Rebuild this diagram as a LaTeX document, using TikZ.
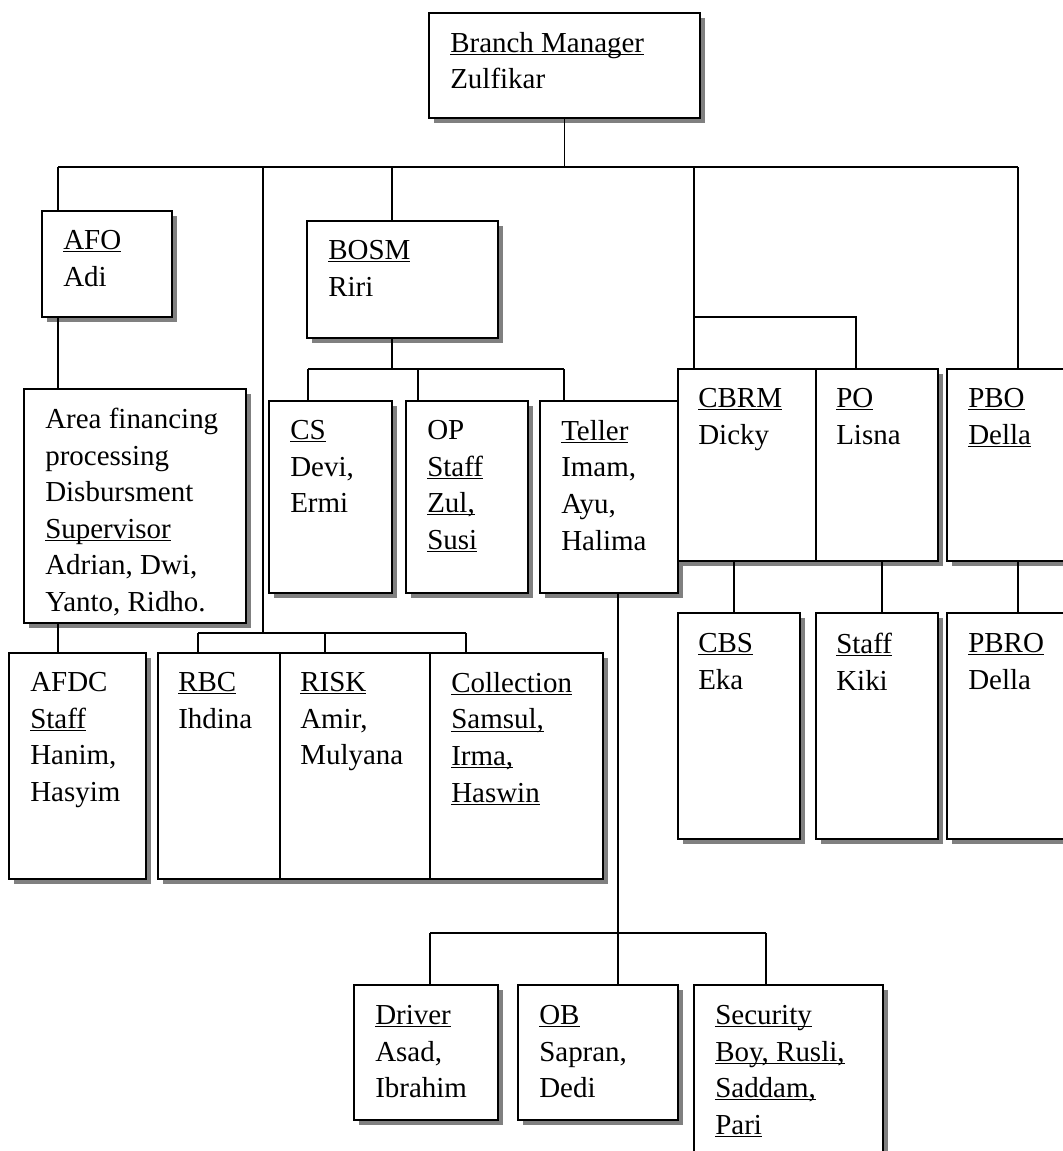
\documentclass[tikz,border=0pt]{standalone}
\usepackage{fontspec}
\setmainfont{Liberation Serif}
\usepackage{tikz}
\usetikzlibrary{calc, fit, shadows}

\newcommand{\undl}[1]{\underline{\smash{#1}}\vphantom{#1}}

\begin{document}
\begin{tikzpicture}[x=0.025cm, y=-0.025cm,
    box/.style={draw=black, line width=1pt, fill=white, inner sep=0pt, outer sep=0pt,
        drop shadow={shadow xshift=3.6pt, shadow yshift=-3.6pt, fill=black!50, opacity=1}},
    txt/.style={anchor=north west, inner sep=0pt, align=left,
        font=\fontsize{20.6}{26}\selectfont},
    link/.style={line width=0.8pt}]
    \useasboundingbox (0,0) rectangle (1063,1151);
    \clip (0,0) rectangle (1063,1151);

    % 1. Branch Manager
    \node[box, fit={(429,13) (700,118)}] (bm) {};
    \node[txt] (bm-t) at ($(bm.north west)+(21,19)$) {\undl{Branch Manager}\\Zulfikar};

    % 2. AFO cot trai
    \node[box, fit={(42,211) (172,317)}] (afo) {};
    \node[txt] (afo-t) at ($(afo.north west)+(21,19)$) {\undl{AFO}\\Adi};
    \node[box, fit={(24,389) (246,623)}] (area) {};
    \node[txt] (area-t) at ($(area.north west)+(21,19)$)
        {Area financing\\processing\\Disbursment\\\undl{Supervisor}\\Adrian, Dwi,\\Yanto, Ridho.};
    \node[box, fit={(9,653) (146,879)}] (afdc) {};
    \node[txt] (afdc-t) at ($(afdc.north west)+(21,19)$) {AFDC\\\undl{Staff}\\Hanim,\\Hasyim};

    % 3. RBC, RISK, Collection
    \node[box, fit={(158,653) (280,879)}] (rbc) {};
    \node[txt] (rbc-t) at ($(rbc.north west)+(20,19)$) {\undl{RBC}\\Ihdina};
    \node[box, fit={(280,653) (430,879)}] (risk) {};
    \node[txt] (risk-t) at ($(risk.north west)+(20,19)$) {\undl{RISK}\\Amir,\\Mulyana};
    \node[box, fit={(430,653) (603,879)}] (coll) {};
    \node[txt] (coll-t) at ($(coll.north west)+(21,19)$)
        {\undl{Collection}\\\undl{Samsul,}\\\undl{Irma,}\\\undl{Haswin}};

    % 4. BOSM va bawahannya
    \node[box, fit={(307,221) (498,338)}] (bosm) {};
    \node[txt] (bosm-t) at ($(bosm.north west)+(21,19)$) {\undl{BOSM}\\Riri};
    \node[box, fit={(269,401) (392,593)}] (cs) {};
    \node[txt] (cs-t) at ($(cs.north west)+(21,19)$) {\undl{CS}\\Devi,\\Ermi};
    \node[box, fit={(406,401) (528,593)}] (op) {};
    \node[txt] (op-t) at ($(op.north west)+(21,19)$) {OP\\\undl{Staff}\\\undl{Zul,}\\\undl{Susi}};
    \node[box, fit={(540,401) (678,593)}] (teller) {};
    \node[txt] (teller-t) at ($(teller.north west)+(21,19)$) {\undl{Teller}\\Imam,\\Ayu,\\Halima};

    % 5. CBRM, PO, PBO
    \node[box, fit={(678,369) (816,561)}] (cbrm) {};
    \node[txt] (cbrm-t) at ($(cbrm.north west)+(20,19)$) {\undl{CBRM}\\Dicky};
    \node[box, fit={(816,369) (938,561)}] (po) {};
    \node[txt] (po-t) at ($(po.north west)+(20,19)$) {\undl{PO}\\Lisna};
    \node[box, fit={(947,369) (1085,561)}] (pbo) {};
    \node[txt] (pbo-t) at ($(pbo.north west)+(21,19)$) {\undl{PBO}\\\undl{Della}};
    \node[box, fit={(678,613) (800,839)}] (cbs) {};
    \node[txt] (cbs-t) at ($(cbs.north west)+(20,20)$) {\undl{CBS}\\Eka};
    \node[box, fit={(816,613) (938,839)}] (stf) {};
    \node[txt] (stf-t) at ($(stf.north west)+(20,20)$) {\undl{Staff}\\Kiki};
    \node[box, fit={(947,613) (1085,839)}] (pbro) {};
    \node[txt] (pbro-t) at ($(pbro.north west)+(21,20)$) {\undl{PBRO}\\Della};

    % 6. Driver, OB, Security
    \node[box, fit={(354,985) (498,1120)}] (driver) {};
    \node[txt] (driver-t) at ($(driver.north west)+(21,20)$) {\undl{Driver}\\Asad,\\Ibrahim};
    \node[box, fit={(518,985) (678,1120)}] (ob) {};
    \node[txt] (ob-t) at ($(ob.north west)+(21,20)$) {\undl{OB}\\Sapran,\\Dedi};
    \node[box, fit={(694,985) (883,1175)}] (sec) {};
    \node[txt] (sec-t) at ($(sec.north west)+(21,20)$)
        {\undl{Security}\\\undl{Boy, Rusli,}\\\undl{Saddam,}\\\undl{Pari}};

    % 7. Garis penghubung
    \coordinate (bus) at (564,167);
    \coordinate (bus-w) at (58,167);
    \coordinate (bus-e) at (1018,167);
    \draw[link] (bm.south) -- (bm.south |- bus);
    \draw[link] (bus-w) -- (bus-e);
    \draw[link] (bus-w) -- (bus-w |- afo.north);
    \draw[link] (bus-w |- afo.south) -- (bus-w |- area.north);
    \draw[link] (bus-w |- area.south) -- (bus-w |- afdc.north);

    \coordinate (risk-bus) at (263,633);
    \coordinate (risk-w) at (198,633);
    \coordinate (risk-m) at (325,633);
    \coordinate (risk-e) at (466,633);
    \draw[link] (risk-bus |- bus) -- (risk-bus);
    \draw[link] (risk-w) -- (risk-e);
    \draw[link] (risk-w) -- (risk-w |- rbc.north);
    \draw[link] (risk-m) -- (risk-m |- risk.north);
    \draw[link] (risk-e) -- (risk-e |- coll.north);

    \coordinate (bosm-bus) at (392,369);
    \coordinate (bo-w) at (308,369);
    \coordinate (bo-m) at (418,369);
    \coordinate (bo-e) at (564,369);
    \draw[link] (bosm-bus |- bus) -- (bosm-bus |- bosm.north);
    \draw[link] (bosm-bus |- bosm.south) -- (bosm-bus);
    \draw[link] (bo-w) -- (bo-e);
    \draw[link] (bo-w) -- (bo-w |- cs.north);
    \draw[link] (bo-m) -- (bo-m |- op.north);
    \draw[link] (bo-e) -- (bo-e |- teller.north);

    \coordinate (cb-bus) at (694,317);
    \coordinate (po-in) at (856,317);
    \draw[link] (cb-bus |- bus) -- (cb-bus |- cbrm.north);
    \draw[link] (cb-bus) -- (po-in) -- (po-in |- po.north);
    \draw[link] (bus-e) -- (bus-e |- pbo.north);

    \coordinate (cbs-in) at (734,613);
    \coordinate (stf-in) at (882,613);
    \coordinate (pbro-in) at (1018,613);
    \draw[link] (cbs-in |- cbrm.south) -- (cbs-in);
    \draw[link] (stf-in |- po.south) -- (stf-in);
    \draw[link] (pbro-in |- pbo.south) -- (pbro-in);

    \coordinate (tl-bus) at (618,933);
    \coordinate (tl-w) at (430,933);
    \coordinate (tl-e) at (766,933);
    \draw[link] (tl-bus |- teller.south) -- (tl-bus);
    \draw[link] (tl-w) -- (tl-e);
    \draw[link] (tl-w) -- (tl-w |- driver.north);
    \draw[link] (tl-bus) -- (tl-bus |- ob.north);
    \draw[link] (tl-e) -- (tl-e |- sec.north);
\end{tikzpicture}
\end{document}
